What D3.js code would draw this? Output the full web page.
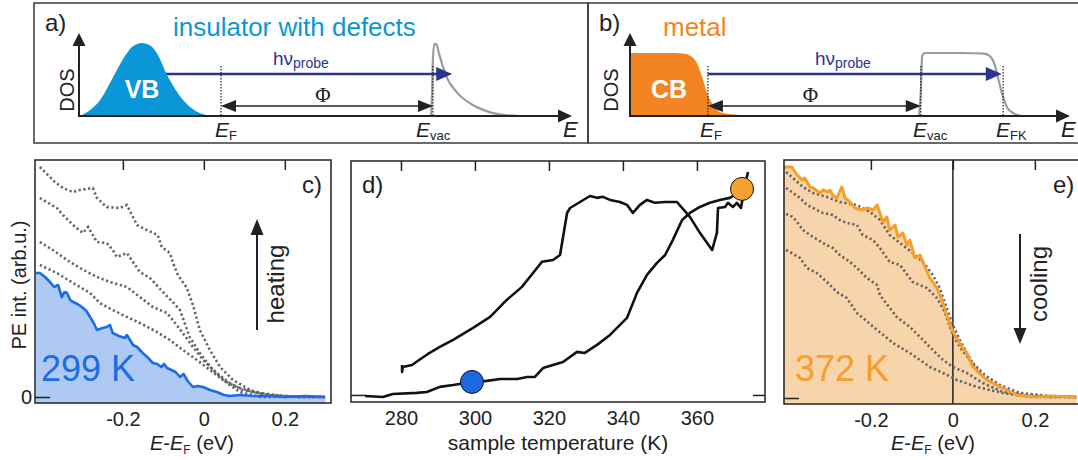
<!DOCTYPE html>
<html>
<head>
<meta charset="utf-8">
<script src="https://cdn.jsdelivr.net/npm/d3@7"></script>
<style>
  body { margin: 0; background: #fff; }
  svg { display: block; }
</style>
</head>
<body>
<svg id="fig" width="1078" height="460"></svg>
<script>
'use strict';

// ---- a) / b) schematic DOS shapes: [energy (schematic units), DOS 0..1] ----
var vbDos = [[0.02,0],[0.2,0.07],[0.43,0.22],[0.69,0.53],[0.97,0.86],[1.1,0.96],[1.28,1],[1.46,0.96],
             [1.58,0.86],[1.81,0.53],[2.11,0.22],[2.3,0.1],[2.45,0.04],[2.66,0]];
var secInsul = [[7.14,0],[7.16,0.3],[7.18,0.8],[7.21,0.99],[7.25,0.98],[7.3,0.86],[7.38,0.68],[7.46,0.53],
                [7.67,0.32],[7.99,0.15],[8.34,0.05],[8.68,0.01],[8.95,0]];
var cbDos = [[0,1],[1.0,1],[1.25,0.99],[1.36,0.96],[1.52,0.84],[1.64,0.62],[1.75,0.37],[1.86,0.21],
             [2.05,0.06],[2.43,0.02],[2.95,0]];
var secMetal = [[6.57,0],[6.61,0.4],[6.64,0.95],[6.7,1],[7.5,1],[8.05,0.99],[8.18,0.95],[8.27,0.85],
                [8.36,0.62],[8.45,0.37],[8.57,0.14],[8.7,0.05],[8.91,0]];
var levelsInsul = [2.88, 7.18];        // E_F, E_vac
var levelsMetal = [1.77, 6.61, 8.48];  // E_F, E_vac, E_FK
var probeInsul = [1.28, 7.57];         // h nu arrow from / to
var probeMetal = [1.77, 8.45];

// ---- c) spectra while heating: [E-E_F (eV), PE intensity] ----
var spec299 = [[-0.415,1.24],[-0.405,1.24],[-0.392,1.2],[-0.38,1.15],[-0.37,1.1],[-0.36,1.12],[-0.351,1.0],
  [-0.344,1.05],[-0.338,1.04],[-0.33,0.97],[-0.323,0.95],[-0.312,0.93],[-0.301,0.9],[-0.29,0.86],
  [-0.281,0.8],[-0.272,0.74],[-0.264,0.67],[-0.25,0.69],[-0.24,0.7],[-0.232,0.72],[-0.225,0.64],
  [-0.21,0.61],[-0.195,0.59],[-0.19,0.62],[-0.175,0.52],[-0.165,0.5],[-0.158,0.47],[-0.151,0.44],
  [-0.14,0.4],[-0.126,0.34],[-0.115,0.33],[-0.105,0.3],[-0.098,0.33],[-0.091,0.29],[-0.08,0.27],
  [-0.07,0.25],[-0.059,0.2],[-0.05,0.23],[-0.04,0.16],[-0.027,0.1],[-0.015,0.11],[-0.002,0.1],
  [0.015,0.07],[0.032,0.05],[0.05,0.02],[0.064,0.01],[0.09,0.02],[0.12,0.01],[0.156,0.01],
  [0.2,0.0],[0.25,0.01],[0.3,0.0]];
var heat1 = [[-0.405,2.3],[-0.368,2.15],[-0.348,2.09],[-0.323,2.05],[-0.306,2.07],[-0.274,2.09],[-0.264,1.99],
  [-0.24,1.9],[-0.207,1.89],[-0.19,1.92],[-0.175,1.8],[-0.165,1.72],[-0.141,1.67],[-0.114,1.62],
  [-0.104,1.5],[-0.084,1.44],[-0.077,1.35],[-0.064,1.22],[-0.042,1.09],[-0.027,0.92],[-0.01,0.67],
  [0.015,0.47],[0.04,0.3],[0.072,0.17],[0.114,0.07],[0.156,0.02],[0.237,0.0],[0.299,0.0]];
var heat2 = [[-0.405,1.99],[-0.363,1.89],[-0.348,1.82],[-0.323,1.72],[-0.299,1.64],[-0.286,1.7],[-0.264,1.55],
  [-0.24,1.54],[-0.225,1.47],[-0.215,1.4],[-0.19,1.44],[-0.175,1.35],[-0.158,1.25],[-0.133,1.19],
  [-0.101,1.05],[-0.077,0.95],[-0.059,0.87],[-0.035,0.6],[-0.01,0.44],[0.022,0.27],[0.057,0.14],
  [0.089,0.05],[0.138,0.0],[0.299,0.0]];
var heat3 = [[-0.405,1.55],[-0.373,1.47],[-0.338,1.37],[-0.306,1.29],[-0.264,1.2],[-0.232,1.15],[-0.19,1.1],
  [-0.158,1.0],[-0.126,0.9],[-0.091,0.84],[-0.077,0.77],[-0.052,0.64],[-0.027,0.5],[-0.002,0.37],
  [0.032,0.24],[0.064,0.14],[0.096,0.07],[0.156,0.02],[0.237,0.0],[0.299,0.0]];
var heat4 = [[-0.405,1.32],[-0.363,1.24],[-0.323,1.14],[-0.281,1.04],[-0.257,0.94],[-0.225,0.87],[-0.19,0.8],
  [-0.158,0.74],[-0.116,0.65],[-0.084,0.57],[-0.052,0.47],[-0.017,0.37],[0.015,0.27],[0.047,0.17],
  [0.081,0.1],[0.121,0.05],[0.195,0.01],[0.299,0.0]];

// ---- d) hysteresis: sample temperature (K) vs signal (arb.) ----
var heatT = [270.3,275.1,277.8,284.3,287.0,290.5,294.1,299.2,303.2,306.8,311.4,314.1,316.2,318.4,321.1,
  323.8,327.6,329.7,333.0,336.5,341.1,343.8,346.5,349.2,351.4,353.5,356.0,358.1,360.8,363.5,366.2,
  368.9,371.6,373.0];
var heatS = [-0.5,-1.0,0.5,1.0,1.4,3.9,4.8,6.3,6.8,7.7,7.7,8.7,8.7,13.0,14.5,15.9,20.8,20.3,24.2,29.0,
  37.2,49.3,58.0,63.8,67.6,74.9,84.5,87.9,90.8,92.8,94.2,95.2,98.1,101.4];
var coolT = [373.8,373.0,371.9,370.8,369.7,368.4,367.6,365.7,365.4,364.1,360.8,358.1,354.6,351.4,348.6,
  346.5,344.6,342.7,341.1,339.2,336.5,334.6,333.0,331.1,328.4,325.7,324.9,323.0,321.1,318.1,315.7,
  312.7,308.6,304.1,299.5,294.1,290.5,287.3,284.9,283.0,280.5,280.3,280.3];
var coolS = [107.7,101.4,90.3,92.8,90.8,92.8,90.8,90.3,78.3,70.0,78.3,86.0,93.2,93.2,92.8,94.2,91.8,87.9,
  91.8,93.2,94.2,95.7,95.2,96.1,93.2,90.3,87.9,67.6,65.2,64.3,58.9,52.2,45.9,37.7,32.4,26.6,23.2,
  19.8,16.9,14.5,13.5,11.1,14.5];
var markT = [299.2, 372.2];
var markS = [6.3, 99.5];

// ---- e) spectra while cooling ----
var spec372 = [[-0.412,2.31],[-0.41,2.31],[-0.393,2.31],[-0.38,2.23],[-0.368,2.18],[-0.361,2.2],[-0.349,2.11],
  [-0.341,2.1],[-0.324,2.05],[-0.317,2.08],[-0.305,2.06],[-0.3,2.08],[-0.293,2.03],[-0.283,2.0],
  [-0.271,2.11],[-0.263,2.0],[-0.251,1.96],[-0.239,1.9],[-0.222,1.88],[-0.207,1.9],[-0.195,1.88],
  [-0.185,1.93],[-0.178,1.85],[-0.171,1.76],[-0.161,1.81],[-0.154,1.68],[-0.141,1.73],[-0.134,1.61],
  [-0.122,1.65],[-0.112,1.53],[-0.105,1.58],[-0.093,1.4],[-0.08,1.43],[-0.068,1.31],[-0.056,1.2],
  [-0.039,1.1],[-0.027,0.98],[-0.015,0.83],[0.0,0.66],[0.012,0.58],[0.022,0.51],[0.034,0.45],
  [0.046,0.33],[0.061,0.26],[0.083,0.18],[0.122,0.1],[0.156,0.03],[0.205,0.01],[0.237,0.02],[0.302,0.01]];
var cool1 = [[-0.407,2.26],[-0.39,2.2],[-0.366,2.11],[-0.341,2.05],[-0.307,2.01],[-0.276,1.96],[-0.234,1.93],
  [-0.202,1.86],[-0.178,1.78],[-0.154,1.63],[-0.129,1.55],[-0.098,1.45],[-0.073,1.36],[-0.049,1.23],
  [-0.032,1.1],[-0.015,0.9],[0.0,0.73],[0.017,0.58],[0.037,0.43],[0.054,0.31],[0.078,0.2],[0.115,0.11],
  [0.163,0.04],[0.237,0.01],[0.302,0.01]];
var cool2 = [[-0.407,2.1],[-0.393,2.06],[-0.373,2.0],[-0.356,1.93],[-0.341,1.9],[-0.317,1.85],[-0.293,1.83],
  [-0.276,1.78],[-0.259,1.75],[-0.234,1.73],[-0.22,1.63],[-0.195,1.58],[-0.178,1.5],[-0.154,1.36],
  [-0.129,1.33],[-0.098,1.16],[-0.063,1.1],[-0.039,1.0],[-0.02,0.86],[0.0,0.63],[0.022,0.48],
  [0.046,0.36],[0.078,0.23],[0.115,0.13],[0.163,0.05],[0.237,0.02],[0.302,0.01]];
var cool3 = [[-0.407,1.84],[-0.39,1.81],[-0.38,1.76],[-0.366,1.68],[-0.341,1.61],[-0.317,1.55],[-0.293,1.5],
  [-0.276,1.43],[-0.251,1.36],[-0.234,1.3],[-0.21,1.2],[-0.185,1.13],[-0.178,1.03],[-0.137,0.81],
  [-0.105,0.71],[-0.08,0.61],[-0.049,0.48],[-0.024,0.38],[0.0,0.31],[0.034,0.25],[0.073,0.15],
  [0.122,0.06],[0.188,0.02],[0.302,0.01]];
var cool4 = [[-0.407,1.48],[-0.393,1.45],[-0.373,1.4],[-0.356,1.3],[-0.332,1.25],[-0.307,1.16],[-0.283,1.06],
  [-0.259,1.0],[-0.234,0.85],[-0.185,0.68],[-0.146,0.55],[-0.105,0.45],[-0.056,0.31],[-0.024,0.25],
  [0.01,0.18],[0.059,0.11],[0.122,0.05],[0.188,0.01],[0.302,0.01]];

var energyTicks = [-0.2, 0, 0.2];
var tempTicks = [280, 300, 320, 340, 360];

var FONT = '"Liberation Sans", Arial, Helvetica, sans-serif';
var INK = '#222';
var svg = d3.select('#fig').attr('font-family', FONT);

function tri(g, tipX, tipY, dir, len, half, color) {
  // filled arrow head; dir = 'r', 'l', 'u', 'd'
  var p;
  if (dir === 'r') p = [[tipX, tipY], [tipX - len, tipY - half], [tipX - len, tipY + half]];
  if (dir === 'l') p = [[tipX, tipY], [tipX + len, tipY - half], [tipX + len, tipY + half]];
  if (dir === 'u') p = [[tipX, tipY], [tipX - half, tipY + len], [tipX + half, tipY + len]];
  if (dir === 'd') p = [[tipX, tipY], [tipX - half, tipY - len], [tipX + half, tipY - len]];
  g.append('path').attr('d', 'M' + p.join('L') + 'Z').attr('fill', color);
}

function subText(g, x, y, main, sub, o) {
  var t = g.append('text').attr('x', x).attr('y', y).attr('font-size', o.size)
    .attr('fill', o.color || INK).attr('text-anchor', o.anchor || 'start');
  t.append('tspan').text(main).attr('font-style', o.italic ? 'italic' : null);
  t.append('tspan').text(sub).attr('font-size', o.subSize).attr('dy', o.subDy);
  return t;
}

// ---------- a) and b) ----------
function schematic(p) {
  var g = svg.append('g');
  var x = d3.scaleLinear().domain([0, 10]).range([p.x0, p.x1]);
  var y = d3.scaleLinear().domain([0, 1]).range([116, p.yTop]);
  var line = d3.line().curve(d3.curveMonotoneX).x(function(d) { return x(d[0]); }).y(function(d) { return y(d[1]); });
  var area = d3.area().curve(d3.curveMonotoneX).x(function(d) { return x(d[0]); })
    .y0(y(0)).y1(function(d) { return y(d[1]); });

  g.append('rect').attr('x', p.bx).attr('y', 3).attr('width', p.bw).attr('height', 140)
    .attr('fill', 'none').attr('stroke', '#3a3a3a').attr('stroke-width', 1.5);

  g.append('text').attr('x', p.bx + 11).attr('y', 31).attr('font-size', 24).attr('fill', INK).text(p.tag);
  g.append('text').attr('x', p.titleX).attr('y', 36).attr('font-size', 26).attr('fill', p.color).text(p.title);

  g.append('path').datum(p.sec).attr('d', line).attr('fill', 'none')
    .attr('stroke', '#9b9b9b').attr('stroke-width', 2.2);

  // h nu probe arrow (starts behind the band)
  g.append('line').attr('x1', x(p.probe[0])).attr('x2', x(p.probe[1]) - 12).attr('y1', 74).attr('y2', 74)
    .attr('stroke', '#2b3590').attr('stroke-width', 2.6);
  tri(g, x(p.probe[1]), 74, 'r', 16, 7, '#2b3590');

  g.append('path').datum(p.band).attr('d', area).attr('fill', p.color);
  g.append('text').attr('x', p.bandX).attr('y', 98).attr('text-anchor', 'middle').attr('font-size', 25)
    .attr('font-weight', 'bold').attr('fill', '#fff').text(p.bandLabel);

  p.levels.forEach(function(e) {
    g.append('line').attr('x1', x(e)).attr('x2', x(e)).attr('y1', 66).attr('y2', 116)
      .attr('stroke', INK).attr('stroke-width', 1.2).attr('stroke-dasharray', '1.4 1.6');
  });

  // work function arrow
  var f0 = x(p.levels[0]), f1 = x(p.levels[1]);
  g.append('line').attr('x1', f0 + 10).attr('x2', f1 - 10).attr('y1', 106).attr('y2', 106)
    .attr('stroke', INK).attr('stroke-width', 1.6);
  tri(g, f0, 106, 'l', 15, 6, INK);
  tri(g, f1, 106, 'r', 15, 6, INK);
  g.append('text').attr('x', (f0 + f1) / 2 - 4).attr('y', 102).attr('text-anchor', 'middle')
    .attr('font-size', 21).attr('font-family', '"Liberation Serif", "Times New Roman", serif')
    .attr('fill', INK).text('\u03A6');

  subText(g, p.probeX, 65, 'h\u03BD', 'probe', { size: 19, subSize: 14, subDy: 3, color: '#2b3590' });

  // DOS / E axes
  g.append('line').attr('x1', p.x0).attr('x2', p.x0).attr('y1', 117).attr('y2', 44)
    .attr('stroke', INK).attr('stroke-width', 2);
  tri(g, p.x0, 33, 'u', 13, 6.5, INK);
  g.append('line').attr('x1', p.x0 - 1).attr('x2', p.x1 - 10).attr('y1', 116).attr('y2', 116)
    .attr('stroke', INK).attr('stroke-width', 2.2);
  tri(g, p.x1, 116, 'r', 14, 6.5, INK);
  g.append('text').attr('transform', 'translate(' + p.dosX + ',90) rotate(-90)')
    .attr('text-anchor', 'middle').attr('dy', '0.35em').attr('font-size', 20).attr('fill', INK).text('DOS');
  g.append('text').attr('x', p.x1 - 9).attr('y', 137).attr('font-size', 22).attr('font-style', 'italic')
    .attr('fill', INK).text('E');

  p.levelLabels.forEach(function(l) {
    subText(g, l[0], 137, 'E', l[1], { size: 21, subSize: 13, subDy: 3, italic: true });
  });
}

schematic({
  bx: 34, bw: 554, x0: 79, x1: 572, yTop: 43, tag: 'a)', title: 'insulator with defects', titleX: 173,
  color: '#0b96d7', band: vbDos, bandLabel: 'VB', bandX: 142, sec: secInsul, levels: levelsInsul,
  probe: probeInsul, probeX: 273, dosX: 67, levelLabels: [[215, 'F'], [416, 'vac']]
});
schematic({
  bx: 588, bw: 495, x0: 630, x1: 1070, yTop: 53, tag: 'b)', title: 'metal', titleX: 663,
  color: '#f28522', band: cbDos, bandLabel: 'CB', bandX: 669, sec: secMetal, levels: levelsMetal,
  probe: probeMetal, probeX: 815, dosX: 611, levelLabels: [[700, 'F'], [913, 'vac'], [996, 'FK']]
});

// ---------- c) d) e) frames ----------
function frame(p) {
  var g = svg.append('g');
  var x = d3.scaleLinear().domain(p.xDom).range([p.left, p.right]);
  var y = d3.scaleLinear().domain(p.yDom).range([p.bottom, p.top]);
  svg.append('clipPath').attr('id', 'clip-' + p.name).append('rect')
    .attr('x', p.left).attr('y', p.top).attr('width', p.right - p.left).attr('height', p.bottom - p.top);
  var inner = g.append('g').attr('clip-path', 'url(#clip-' + p.name + ')');
  return { g: g, inner: inner, x: x, y: y, p: p };
}

function decorate(f) {
  var p = f.p, g = f.g;
  var top = g.append('g').attr('transform', 'translate(0,' + p.top + ')')
    .call(d3.axisTop(f.x).tickValues(p.ticks).tickSize(-10).tickFormat(''));
  top.select('.domain').remove();
  top.selectAll('line').attr('stroke', INK).attr('stroke-width', 1.5);

  var bot = g.append('g').attr('transform', 'translate(0,' + p.bottom + ')')
    .call(d3.axisBottom(f.x).tickValues(p.ticks).tickSize(0).tickPadding(9).tickFormat(p.fmt));
  bot.select('.domain').remove();
  bot.attr('font-size', 20).attr('font-family', FONT);
  bot.selectAll('text').attr('fill', INK);

  var left = g.append('g').attr('transform', 'translate(' + p.left + ',0)')
    .call(d3.axisLeft(f.y).tickValues([0]).tickSize(-15).tickPadding(3).tickFormat(p.zeroLabel ? d3.format('d') : ''));
  left.select('.domain').remove();
  left.selectAll('line').attr('stroke', INK).attr('stroke-width', 1.5);
  left.attr('font-size', 20).attr('font-family', FONT);
  left.selectAll('text').attr('fill', INK);

  if (p.rightTick) {
    var right = g.append('g').attr('transform', 'translate(' + p.right + ',0)')
      .call(d3.axisRight(f.y).tickValues([0]).tickSize(-12).tickFormat(''));
    right.select('.domain').remove();
    right.selectAll('line').attr('stroke', INK).attr('stroke-width', 1.5);
  }

  g.append('rect').attr('x', p.left).attr('y', p.top).attr('width', p.right - p.left)
    .attr('height', p.bottom - p.top).attr('fill', 'none').attr('stroke', INK).attr('stroke-width', 1.5);
  g.append('text').attr('x', p.tagX).attr('y', 193).attr('font-size', 24).attr('fill', INK).text(p.tag);
}

function spectraPanel(p) {
  var f = frame(p);
  var x = f.x, y = f.y;
  var line = d3.line().x(function(d) { return x(d[0]); }).y(function(d) { return y(d[1]); });
  var area = d3.area().x(function(d) { return x(d[0]); }).y0(p.bottom).y1(function(d) { return y(d[1]); });
  f.inner.append('path').datum(p.main).attr('d', area).attr('fill', p.fill);
  if (p.zeroLine) {
    f.inner.append('line').attr('x1', x(0)).attr('x2', x(0)).attr('y1', p.top).attr('y2', p.bottom)
      .attr('stroke', INK).attr('stroke-width', 1.5);
  }
  p.others.forEach(function(s) {
    f.inner.append('path').datum(s).attr('d', line).attr('fill', 'none')
      .attr('stroke', '#646464').attr('stroke-width', 2.6).attr('stroke-dasharray', '2.2 2.6');
  });
  f.inner.append('path').datum(p.main).attr('d', line).attr('fill', 'none')
    .attr('stroke', p.color).attr('stroke-width', p.lineWidth).attr('stroke-linejoin', 'round');
  decorate(f);

  var g = f.g;
  g.append('text').attr('x', p.tempX).attr('y', 381).attr('font-size', 36).attr('fill', p.color).text(p.tempLabel);

  // heating / cooling arrow
  var a = p.arrow;
  g.append('line').attr('x1', a[0]).attr('x2', a[0]).attr('y1', a[1]).attr('y2', a[2] + (a[2] < a[1] ? 12 : -12))
    .attr('stroke', INK).attr('stroke-width', 2);
  tri(g, a[0], a[2], a[2] < a[1] ? 'u' : 'd', 16, 6.5, INK);
  g.append('text').attr('transform', 'translate(' + p.wordX + ',284) rotate(-90)').attr('text-anchor', 'middle')
    .attr('font-size', 24).attr('fill', INK).text(p.word);

  var xl = g.append('text').attr('x', p.xLabelX).attr('y', 450).attr('text-anchor', 'middle')
    .attr('font-size', 20).attr('fill', INK);
  xl.append('tspan').attr('font-style', 'italic').text('E');
  xl.append('tspan').text('-');
  xl.append('tspan').attr('font-style', 'italic').text('E');
  xl.append('tspan').attr('font-size', 12).attr('dy', 4).text('F');
  xl.append('tspan').attr('dy', -4).text(' (eV)');
  return f;
}

var fmtE = function(d) { return d === 0 ? '0' : d.toFixed(1); };

spectraPanel({
  name: 'c', left: 35, right: 331, top: 160, bottom: 403, xDom: [-0.417, 0.314], yDom: [-0.06, 2.37],
  ticks: energyTicks, fmt: fmtE, zeroLabel: true, tag: 'c)', tagX: 302,
  main: spec299, others: [heat1, heat2, heat3, heat4], fill: '#aecaf4', color: '#1c6de3', lineWidth: 2.6,
  tempLabel: '299 K', tempX: 41, arrow: [257, 330, 219], word: 'heating', wordX: 284, xLabelX: 192
});

spectraPanel({
  name: 'e', left: 784, right: 1082, top: 160, bottom: 404, xDom: [-0.412, 0.315], yDom: [-0.06, 2.38],
  ticks: energyTicks, fmt: fmtE, zeroLabel: false, zeroLine: true, tag: 'e)', tagX: 1053,
  main: spec372, others: [cool1, cool2, cool3, cool4], fill: '#f7d4aa', color: '#f89d2a', lineWidth: 3,
  tempLabel: '372 K', tempX: 795, arrow: [1020, 234, 344], word: 'cooling', wordX: 1047, xLabelX: 933
});

// ---------- d) ----------
var fd = frame({ name: 'd', left: 351, right: 765, top: 161, bottom: 402, xDom: [266.5, 378.4], yDom: [-3.4, 113] });
fd.p.ticks = tempTicks;
fd.p.fmt = d3.format('d');
fd.p.rightTick = true;
fd.p.tag = 'd)';
fd.p.tagX = 362;
var dLine = d3.line().x(function(d) { return fd.x(d[0]); }).y(function(d) { return fd.y(d[1]); });
fd.inner.append('path').datum(d3.zip(heatT, heatS)).attr('d', dLine).attr('fill', 'none')
  .attr('stroke', '#111').attr('stroke-width', 2.6).attr('stroke-linejoin', 'round');
fd.inner.append('path').datum(d3.zip(coolT, coolS)).attr('d', dLine).attr('fill', 'none')
  .attr('stroke', '#111').attr('stroke-width', 2.6).attr('stroke-linejoin', 'round');
decorate(fd);
fd.g.selectAll('circle.mark').data(d3.zip(markT, markS)).enter().append('circle')
  .attr('class', 'mark')
  .attr('cx', function(d) { return fd.x(d[0]); })
  .attr('cy', function(d) { return fd.y(d[1]); })
  .attr('r', 11.5)
  .attr('fill', function(d, i) { return i === 0 ? '#1f67e0' : '#f7a12e'; })
  .attr('stroke', '#111').attr('stroke-width', 1);
fd.g.append('text').attr('x', 558).attr('y', 450).attr('text-anchor', 'middle').attr('font-size', 21)
  .attr('fill', INK).text('sample temperature (K)');

// c) y label
svg.append('text').attr('transform', 'translate(26,285) rotate(-90)').attr('text-anchor', 'middle')
  .attr('font-size', 20).attr('fill', INK).text('PE int. (arb.u.)');
</script>
</body>
</html>
